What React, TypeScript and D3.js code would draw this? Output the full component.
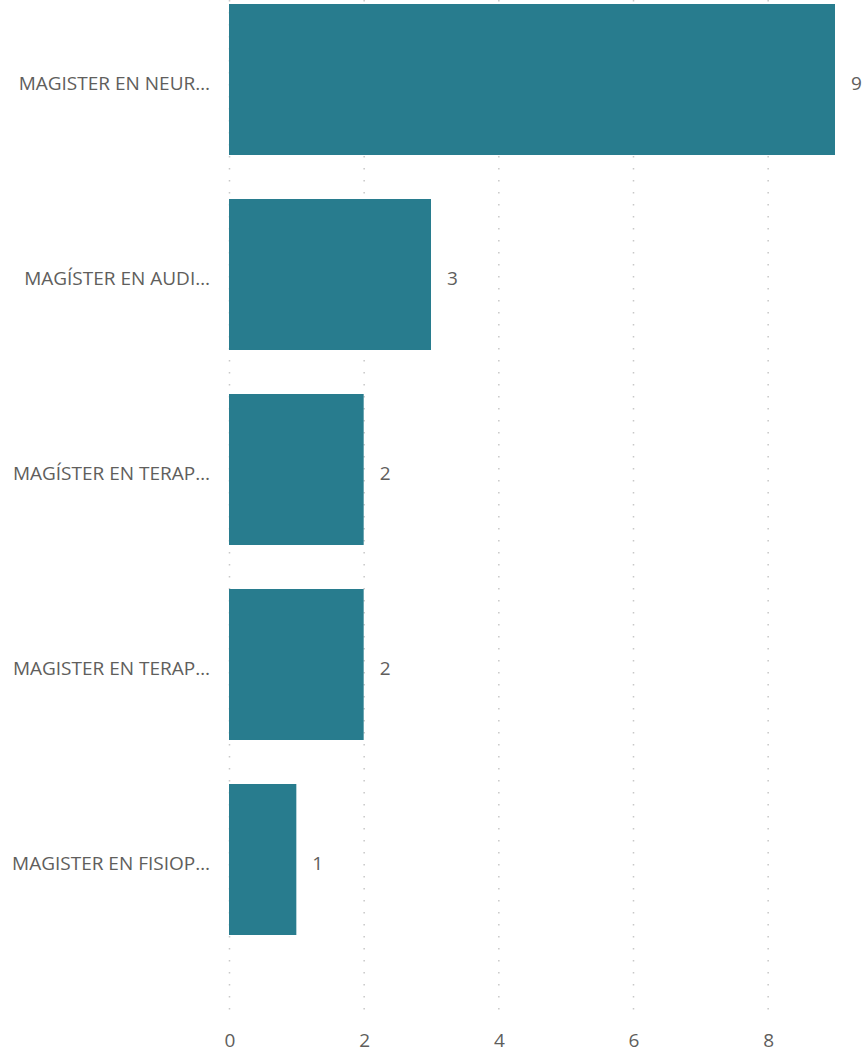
import React from "react";
import * as d3 from "d3";

const categories = [
  "MAGISTER EN NEUR…",
  "MAGÍSTER EN AUDI…",
  "MAGÍSTER EN TERAP…",
  "MAGISTER EN TERAP…",
  "MAGISTER EN FISIOP…",
];
const values = [9, 3, 2, 2, 1];
const xTicks = [0, 2, 4, 6, 8];

const W = 865;
const H = 1051;
const FONT = "'Segoe UI', 'Open Sans', sans-serif";
const TEXT = "#605E5C";
const BAR = "#287C8E";

export default function App() {
  const x = d3.scaleLinear().domain([0, 9]).range([229, 835]);
  const y = d3
    .scaleBand<string>()
    .domain(categories)
    .range([4, 935])
    .paddingInner(44 / 195)
    .paddingOuter(0);
  const mid = (c: string) => (y(c) as number) + y.bandwidth() / 2;

  return (
    <svg
      width={W}
      height={H}
      style={{ position: "absolute", left: 0, top: 0, background: "#fff" }}
    >
      <g>
        {xTicks.map((t) => (
          <line
            key={"g" + t}
            x1={x(t) + 0.5}
            x2={x(t) + 0.5}
            y1={super0()}
            y2={1018}
            stroke="#c8c8c8"
            strokeWidth={1.5}
            strokeDasharray="1.5 10.5"
          />
        ))}
      </g>
      <g>
        {categories.map((c, i) => (
          <rect
            key={c}
            x={x(0)}
            y={y(c) as number}
            width={x(values[i]) - x(0)}
            height={y.bandwidth()}
            fill={BAR}
          />
        ))}
      </g>
      <g fontFamily={FONT} fontSize={19} fill={TEXT}>
        {categories.map((c) => (
          <text key={"l" + c} x={210} y={mid(c) + 10.5} textAnchor="end">
            {c}
          </text>
        ))}
        {categories.map((c, i) => (
          <text
            key={"v" + c}
            x={x(values[i]) + 16}
            y={mid(c) + 10}
            textAnchor="start"
          >
            {values[i]}
          </text>
        ))}
        {xTicks.map((t) => (
          <text key={"t" + t} x={x(t) + 1} y={1047} textAnchor="middle">
            {t}
          </text>
        ))}
      </g>
    </svg>
  );
}

function super0() {
  return 0;
}
